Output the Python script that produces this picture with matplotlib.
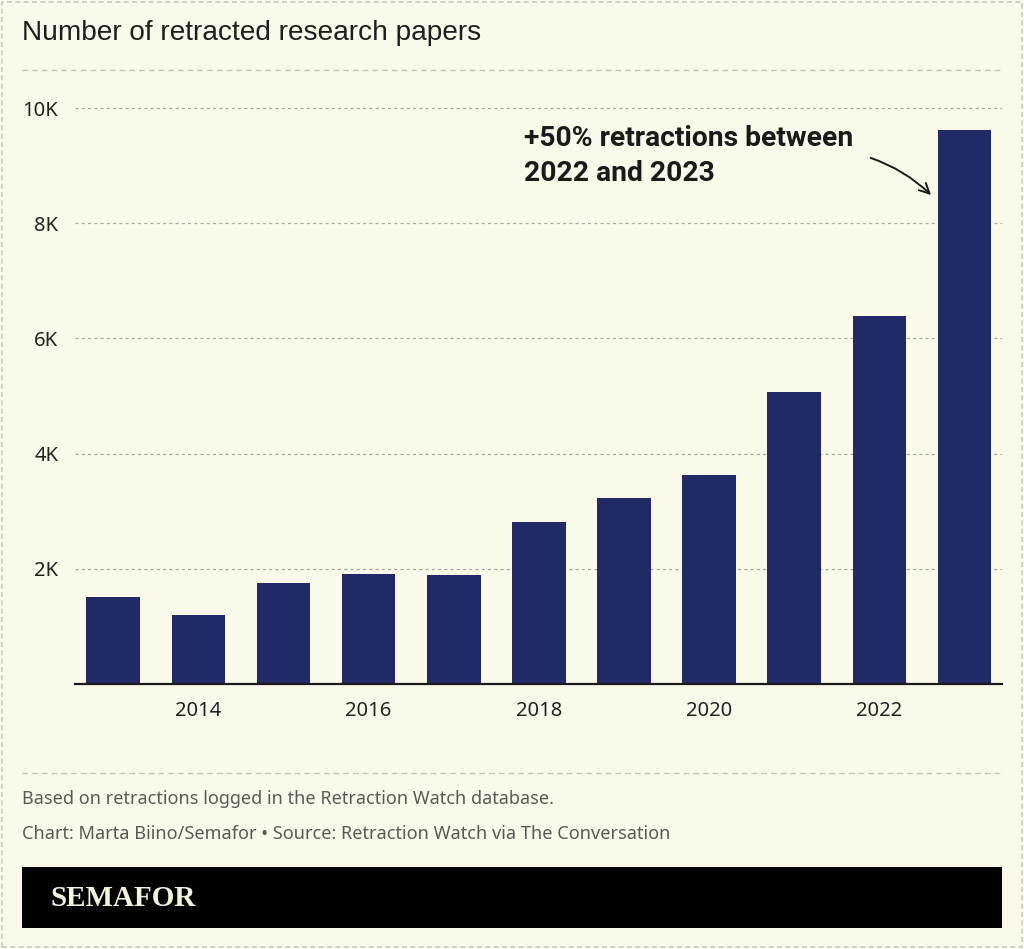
import matplotlib.pyplot as plt
from matplotlib.patches import Rectangle
from matplotlib.lines import Line2D
from matplotlib.ticker import FuncFormatter

# Retractions per year (thousands)
years = [2013, 2014, 2015, 2016, 2017, 2018, 2019, 2020, 2021, 2022, 2023]
retractions = [1.51, 1.20, 1.75, 1.91, 1.89, 2.81, 3.23, 3.63, 5.07, 6.39, 9.62]
tick_years = [2014, 2016, 2018, 2020, 2022]
y_ticks = [2, 4, 6, 8, 10]

W, H = 1024, 949
bg = '#fbfaea'
navy = '#212a66'

fig = plt.figure(figsize=(W / 100, H / 100), dpi=100, facecolor=bg)

def fx(px):
    return px / W

def fy(py):
    return 1 - py / H

# axes placement in pixels: left 75, right 1002, bottom 684
ymax = 10.5
px_per_k = 57.6
ax = fig.add_axes([fx(75), fy(684), fx(1002 - 75), ymax * px_per_k / H])
ax.set_facecolor(bg)
ax.bar(years, retractions, width=0.63, color=navy, zorder=3)
ax.set_xlim(2013 - 0.45, 2023 + 0.44)
ax.set_ylim(0, ymax)
ax.set_yticks(y_ticks)
ax.yaxis.set_major_formatter(FuncFormatter(lambda v, p: f"{int(v)}K"))
ax.set_xticks(tick_years)
ax.tick_params(axis='both', length=0, labelsize=14.5, colors='#222222')
ax.tick_params(axis='y', pad=12)
ax.tick_params(axis='x', pad=12)
for lab in ax.get_xticklabels() + ax.get_yticklabels():
    lab.set_fontfamily('Noto Sans')
ax.grid(axis='y', color='#a8a8a0', linestyle=(0, (2.5, 2.5)), linewidth=0.9, zorder=0)
for s in ['top', 'right', 'left']:
    ax.spines[s].set_visible(False)
ax.spines['bottom'].set_color('#1a1a1a')
ax.spines['bottom'].set_linewidth(1.6)
ax.spines['bottom'].set_zorder(4)

# annotation with curved arrow
fig.text(fx(524), fy(156), '+50% retractions between\n2022 and 2023',
         fontsize=20.3, fontweight='bold', family=['Roboto', 'DejaVu Sans'],
         color='#1a1a1a', ha='left', va='center', linespacing=1.38)
ax.annotate('', xy=(2023 - 0.37, (684 - 197) / px_per_k), xycoords='data',
            xytext=(fx(868), fy(157)), textcoords='figure fraction',
            arrowprops=dict(arrowstyle='->', color='#1a1a1a', lw=1.4,
                            connectionstyle='arc3,rad=-0.12', mutation_scale=18))

# title
fig.text(fx(22), fy(33), 'Number of retracted research papers', fontsize=20.2,
         family='Liberation Sans', color='#1e1e1e', ha='left', va='center')

# dashed separators
dash_col = '#c4c3b6'
for py in [70, 773]:
    fig.add_artist(Line2D([fx(22), fx(1002)], [fy(py), fy(py)], color=dash_col,
                          linestyle=(0, (4, 3)), linewidth=1.0))

# footer notes
fig.text(fx(22), fy(799), 'Based on retractions logged in the Retraction Watch database.',
         fontsize=13, family='Noto Sans', color='#5a5a55', ha='left', va='center')
fig.text(fx(22), fy(834), 'Chart: Marta Biino/Semafor \u2022 Source: Retraction Watch via The Conversation',
         fontsize=13.1, family='Noto Sans', color='#5a5a55', ha='left', va='center')

# logo bar
fig.add_artist(Rectangle((fx(22), fy(928)), fx(1002 - 22), (928 - 867) / H,
                         transform=fig.transFigure, facecolor='black', edgecolor='none'))
fig.text(fx(50), fy(898), 'SEMAFOR', fontsize=21, family='Liberation Serif', fontweight='bold',
         color='#f5f2dc', ha='left', va='center')

# dashed outer border
fig.add_artist(Rectangle((fx(1.5), fy(946.5)), fx(1020), 945 / H, transform=fig.transFigure,
                         facecolor='none', edgecolor='#c8c8c2', linestyle=(0, (3, 2)), linewidth=1.2))

fig.savefig('out.png', dpi=100, facecolor=bg)
